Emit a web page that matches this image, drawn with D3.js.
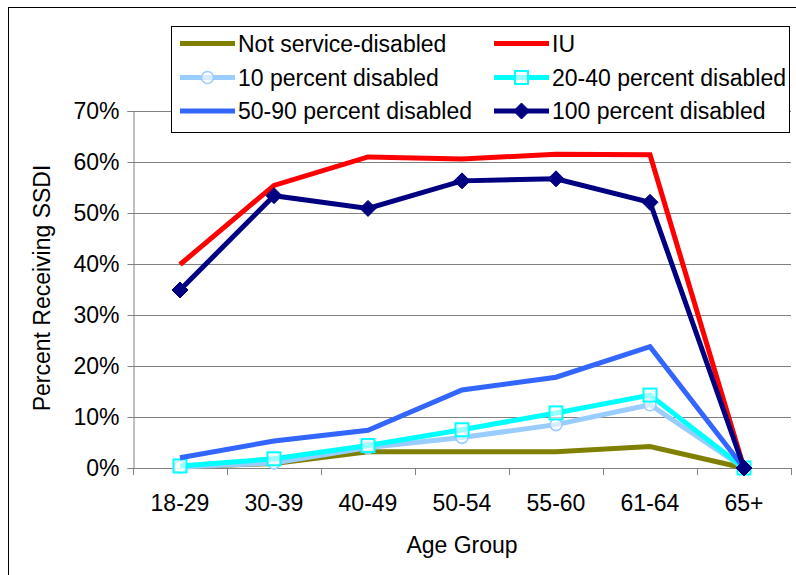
<!DOCTYPE html>
<html>
<head>
<meta charset="utf-8">
<script src="https://cdn.jsdelivr.net/npm/d3@7/dist/d3.min.js"></script>
<style>
  html, body { margin: 0; padding: 0; background: #fff; }
  svg { display: block; font-family: "Liberation Sans", Arial, sans-serif; }
</style>
</head>
<body>
<svg id="chart" width="796" height="575"></svg>
<script>
const categories = ["18-29", "30-39", "40-49", "50-54", "55-60", "61-64", "65+"];
const yTicks = [0, 0.1, 0.2, 0.3, 0.4, 0.5, 0.6, 0.7];

const notServiceDisabled = [0.002, 0.009, 0.032, 0.032, 0.032, 0.042, 0];
const iu                 = [0.399, 0.554, 0.610, 0.606, 0.615, 0.614, 0];
const pct10              = [0.002, 0.010, 0.040, 0.060, 0.085, 0.124, 0];
const pct20to40          = [0.004, 0.018, 0.044, 0.075, 0.108, 0.143, 0];
const pct50to90          = [0.020, 0.053, 0.074, 0.153, 0.178, 0.238, 0];
const pct100             = [0.349, 0.534, 0.509, 0.563, 0.567, 0.521, 0];

const seriesNames = ["Not service-disabled", "IU", "10 percent disabled",
  "20-40 percent disabled", "50-90 percent disabled", "100 percent disabled"];

const series = [
  { name: seriesNames[0], values: notServiceDisabled, color: "#808000", marker: null },
  { name: seriesNames[1], values: iu, color: "#FF0000", marker: null },
  { name: seriesNames[2], values: pct10, color: "#99CCFF", marker: "circle" },
  { name: seriesNames[3], values: pct20to40, color: "#00FFFF", marker: "square" },
  { name: seriesNames[4], values: pct50to90, color: "#3366FF", marker: null },
  { name: seriesNames[5], values: pct100, color: "#000080", marker: "diamond" }
];

const FS = "23px";
const svg = d3.select("#chart");
const plot = { left: 133, right: 791, top: 111, bottom: 468 };

// outer frame
svg.append("rect")
  .attr("x", 8.5).attr("y", 7.5).attr("width", 820).attr("height", 620)
  .attr("fill", "none").attr("stroke", "#000").attr("stroke-width", 1);

const x = d3.scaleBand().domain(categories).range([plot.left, plot.right]).padding(0);
const y = d3.scaleLinear().domain([0, 0.7]).range([plot.bottom, plot.top]);
const cx = c => x(c) + x.bandwidth() / 2;

// gridlines
svg.append("g").selectAll("line").data(yTicks).join("line")
  .attr("x1", plot.left).attr("x2", plot.right)
  .attr("y1", d => Math.round(y(d)) + 0.5).attr("y2", d => Math.round(y(d)) + 0.5)
  .attr("stroke", "#808080").attr("stroke-width", 1);

// y axis
const yAxis = d3.axisLeft(y).tickValues(yTicks).tickFormat(d3.format(".0%"))
  .tickSize(6).tickPadding(8);
const gy = svg.append("g").attr("transform", `translate(${plot.left + 0.5},0)`).call(yAxis);
gy.select(".domain").attr("stroke", "#808080");
gy.selectAll(".tick line").attr("stroke", "#808080");
gy.selectAll(".tick text").attr("font-size", FS).attr("fill", "#000")
  .attr("font-family", "Liberation Sans, Arial, sans-serif");

// x axis (ticks at category boundaries)
const boundaries = categories.map(c => x(c)).concat([plot.right]);
const gx = svg.append("g");
gx.append("line").attr("x1", plot.left).attr("x2", plot.right)
  .attr("y1", plot.bottom + 0.5).attr("y2", plot.bottom + 0.5).attr("stroke", "#808080");
gx.selectAll("line.tk").data(boundaries).join("line").attr("class", "tk")
  .attr("x1", d => Math.round(d) + 0.5).attr("x2", d => Math.round(d) + 0.5)
  .attr("y1", plot.bottom).attr("y2", plot.bottom + 7).attr("stroke", "#808080");
gx.selectAll("text").data(categories).join("text")
  .attr("x", d => cx(d)).attr("y", 511)
  .attr("text-anchor", "middle").attr("font-size", FS).text(d => d);

// axis titles
svg.append("text").attr("x", 462).attr("y", 553).attr("text-anchor", "middle")
  .attr("font-size", FS).text("Age Group");
svg.append("text").attr("transform", "translate(50,288) rotate(-90)")
  .attr("text-anchor", "middle").attr("font-size", FS).text("Percent Receiving SSDI");

// marker drawing
function drawMarker(g, type, color, px, py) {
  if (type === "circle") {
    g.append("circle").attr("cx", px).attr("cy", py).attr("r", 6)
      .attr("fill", "#fff").attr("fill-opacity", 0.6).attr("stroke", color).attr("stroke-width", 1.6);
  } else if (type === "square") {
    g.append("rect").attr("x", px - 6.5).attr("y", py - 6.5).attr("width", 13).attr("height", 13)
      .attr("fill", "#fff").attr("fill-opacity", 0.6).attr("stroke", color).attr("stroke-width", 2);
  } else if (type === "diamond") {
    const s = 8;
    g.append("path").attr("d", `M${px},${py - s}L${px + s},${py}L${px},${py + s}L${px - s},${py}Z`)
      .attr("fill", color).attr("stroke", color).attr("stroke-width", 1);
  }
}

const line = d3.line().x((d, i) => cx(categories[i])).y(d => y(d));

series.forEach(s => {
  const g = svg.append("g");
  g.append("path").datum(s.values).attr("d", line)
    .attr("fill", "none").attr("stroke", s.color).attr("stroke-width", 5)
    .attr("stroke-linejoin", "miter");
  if (s.marker) {
    s.values.forEach((v, i) => drawMarker(g, s.marker, s.color, cx(categories[i]), y(v)));
  }
});

// legend
const lg = svg.append("g");
lg.append("rect").attr("x", 171.5).attr("y", 26.5).attr("width", 618).attr("height", 106)
  .attr("fill", "#fff").attr("stroke", "#000").attr("stroke-width", 1);
const legendCols = [180, 494];
const legendRows = [43.5, 77.5, 111];
series.forEach((s, i) => {
  const lx = legendCols[i % 2];
  const ly = legendRows[Math.floor(i / 2)];
  lg.append("line").attr("x1", lx).attr("x2", lx + 55).attr("y1", ly).attr("y2", ly)
    .attr("stroke", s.color).attr("stroke-width", 5);
  if (s.marker) drawMarker(lg, s.marker, s.color, lx + 27.5, ly);
  lg.append("text").attr("x", lx + 58).attr("y", ly + 8).attr("font-size", FS).text(s.name);
});
</script>
</body>
</html>
